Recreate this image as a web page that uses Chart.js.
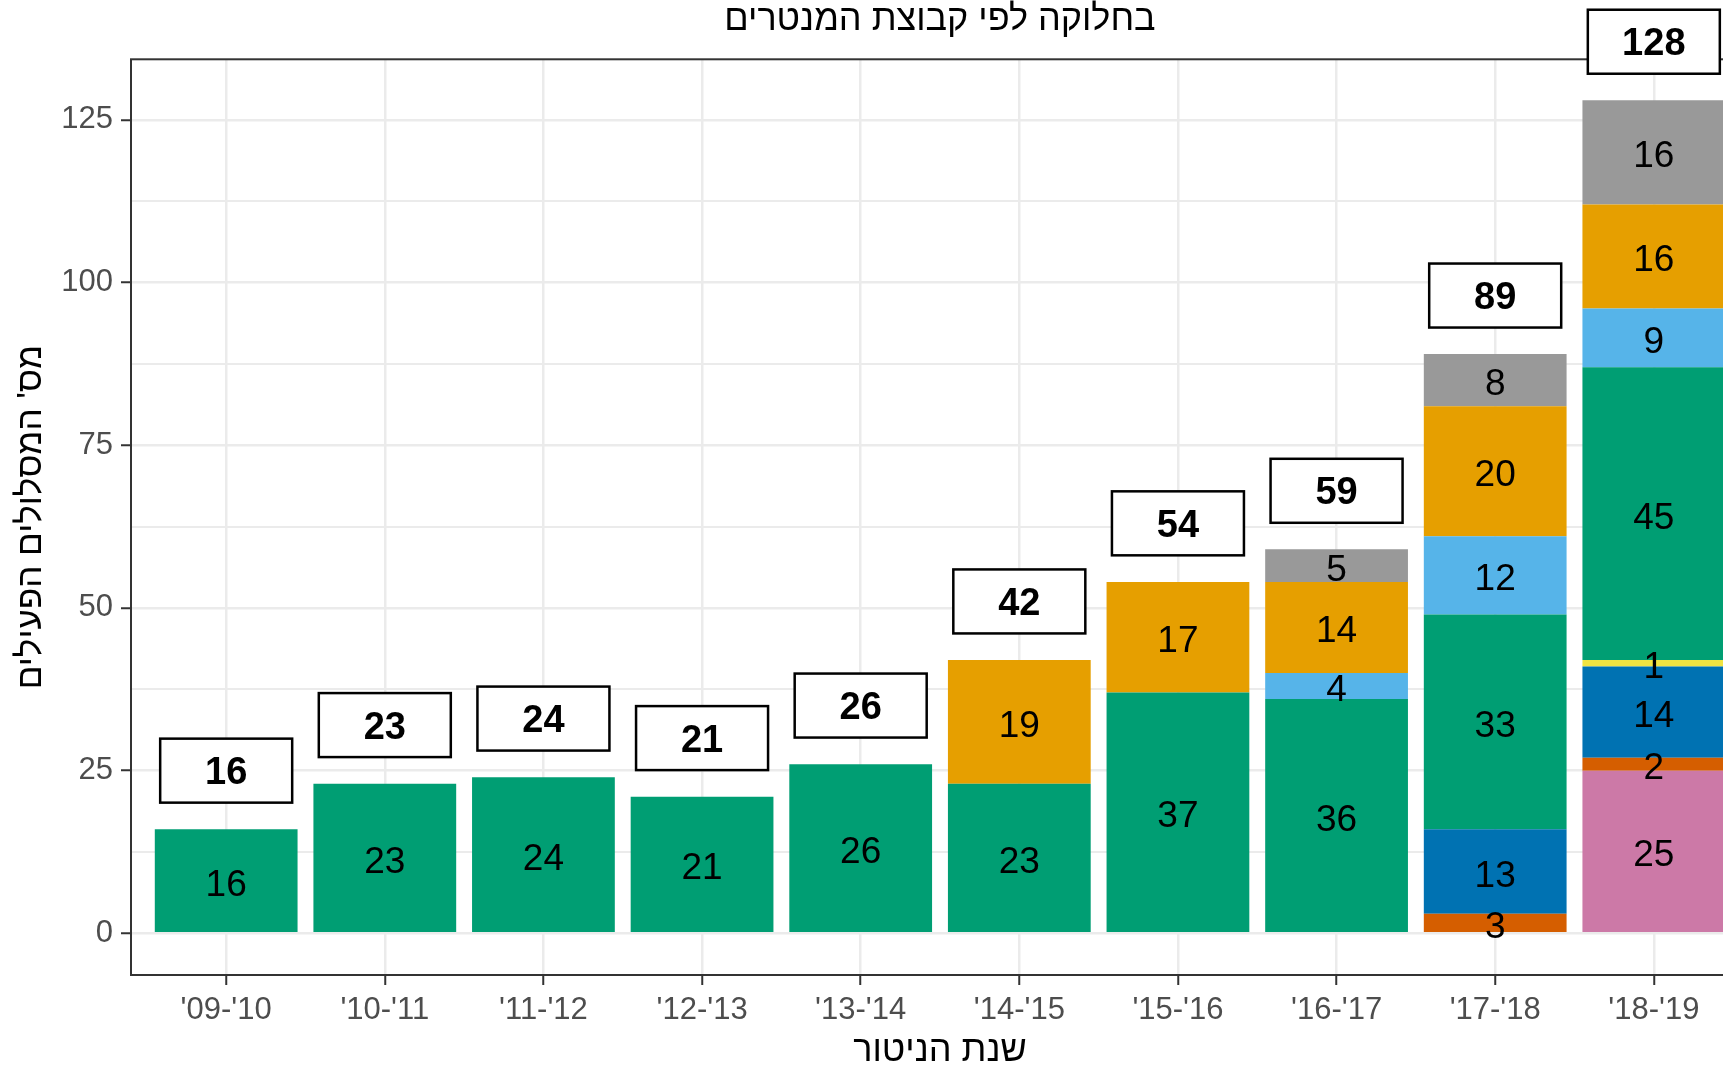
<!DOCTYPE html>
<html>
<head>
<meta charset="utf-8">
<script src="https://cdn.jsdelivr.net/npm/chart.js@4.4.1/dist/chart.umd.min.js"></script>
<style>
  html, body { margin: 0; padding: 0; overflow: hidden; background: #ffffff; }
  canvas { display: block; }
</style>
</head>
<body>
<canvas id="mentorsChart" width="1760" height="1069"></canvas>
<script>
// monitoring years (x axis)
const years = ["'09-'10", "'10-'11", "'11-'12", "'12-'13", "'13-'14", "'14-'15", "'15-'16", "'16-'17", "'17-'18", "'18-'19"];

// series, bottom of the stack first
const pinkValues      = [0, 0, 0, 0, 0, 0, 0, 0, 0, 25];
const vermilionValues = [0, 0, 0, 0, 0, 0, 0, 0, 3, 2];
const blueValues      = [0, 0, 0, 0, 0, 0, 0, 0, 13, 14];
const yellowValues    = [0, 0, 0, 0, 0, 0, 0, 0, 0, 1];
const greenValues     = [16, 23, 24, 21, 26, 23, 37, 36, 33, 45];
const skyValues       = [0, 0, 0, 0, 0, 0, 0, 4, 12, 9];
const orangeValues    = [0, 0, 0, 0, 0, 19, 17, 14, 20, 16];
const greyValues      = [0, 0, 0, 0, 0, 0, 0, 5, 8, 16];

const yTicks = [0, 25, 50, 75, 100, 125];

const titleText = 'בחלוקה לפי קבוצת המנטרים';
const xTitle = 'שנת הניטור';
const yTitle = "מס' המסלולים הפעילים";

const FONT = '"Liberation Sans", Arial, "DejaVu Sans", sans-serif';

function toPoints(values) {
    return values.map((v, i) => ({ x: i, y: v }));
}

const series = [
    { values: pinkValues, color: '#CC79A7' },
    { values: vermilionValues, color: '#D55E00' },
    { values: blueValues, color: '#0072B2' },
    { values: yellowValues, color: '#F0E442' },
    { values: greenValues, color: '#009E73' },
    { values: skyValues, color: '#56B4E9' },
    { values: orangeValues, color: '#E69F00' },
    { values: greyValues, color: '#999999' }
];

// totals come straight from the series
const totals = years.map((_, i) => series.reduce((s, sr) => s + sr.values[i], 0));

// minor grid between the labelled ticks
let gridValues = [];
for (let i = 0; i < yTicks.length; i++) {
    gridValues.push(yTicks[i]);
    if (i < yTicks.length - 1) gridValues.push((yTicks[i] + yTicks[i + 1]) / 2);
}

const labelPlugin = {
    id: 'stackLabels',
    afterDatasetsDraw(chart) {
        const { ctx, chartArea, scales } = chart;
        ctx.save();

        // panel border
        ctx.strokeStyle = '#333333';
        ctx.lineWidth = 2;
        ctx.strokeRect(chartArea.left, chartArea.top, chartArea.right - chartArea.left, chartArea.bottom - chartArea.top);

        // title, centred over the panel
        ctx.fillStyle = '#000000';
        ctx.textAlign = 'center';
        ctx.textBaseline = 'middle';
        ctx.font = '36px ' + FONT;
        ctx.fillText(titleText, (chartArea.left + chartArea.right) / 2, 20);

        // values inside each segment
        ctx.textBaseline = 'alphabetic';
        ctx.font = '37px ' + FONT;
        chart.data.datasets.forEach((ds, di) => {
            const meta = chart.getDatasetMeta(di);
            meta.data.forEach((bar, i) => {
                const v = ds.data[i].y;
                if (!v) return;
                ctx.fillText(String(v), bar.x, (bar.y + bar.base) / 2 + 15);
            });
        });

        // boxed totals above the bars
        ctx.font = 'bold 38px ' + FONT;
        totals.forEach((total, i) => {
            const x = scales.x.getPixelForValue(i);
            const y = scales.y.getPixelForValue(total + 9);
            const w = 132, h = 64;
            ctx.fillStyle = '#ffffff';
            ctx.fillRect(x - w / 2, y - h / 2, w, h);
            ctx.strokeStyle = '#000000';
            ctx.lineWidth = 2.5;
            ctx.strokeRect(x - w / 2, y - h / 2, w, h);
            ctx.fillStyle = '#000000';
            ctx.fillText(String(total), x, y + 13.6);
        });

        ctx.restore();
    }
};

const ctx = document.getElementById('mentorsChart');

new Chart(ctx, {
    type: 'bar',
    data: {
        datasets: series.map(s => ({
            data: toPoints(s.values),
            backgroundColor: s.color,
            borderWidth: 0,
            barPercentage: 0.9,
            categoryPercentage: 1.0
        }))
    },
    options: {
        responsive: false,
        animation: false,
        devicePixelRatio: 1,
        layout: { padding: { left: 0, right: 11, top: 59.3, bottom: 0 } },
        plugins: {
            legend: { display: false },
            tooltip: { enabled: false },
            title: { display: false }
        },
        scales: {
            x: {
                type: 'linear',
                stacked: true,
                offset: false,
                min: -0.6,
                max: 9.6,
                afterBuildTicks: scale => {
                    scale.ticks = years.map((_, i) => ({ value: i }));
                },
                afterFit: scale => { scale.height = 94; },
                ticks: {
                    autoSkip: false,
                    maxRotation: 0,
                    padding: 7,
                    color: '#4D4D4D',
                    font: { family: FONT, size: 31 },
                    callback: (value, index) => years[index]
                },
                grid: {
                    offset: false,
                    color: '#EBEBEB',
                    lineWidth: 2.5,
                    tickColor: '#333333',
                    tickLength: 10,
                    tickWidth: 2
                },
                border: { display: false },
                title: {
                    display: true,
                    text: xTitle,
                    color: '#000000',
                    font: { family: FONT, size: 36, lineHeight: 1.0 },
                    padding: { top: 0, bottom: 0 }
                }
            },
            y: {
                type: 'linear',
                stacked: true,
                min: -6.4,
                max: 134.3,
                afterBuildTicks: scale => {
                    scale.ticks = gridValues.map(v => ({ value: v }));
                },
                afterFit: scale => { scale.width = 131; },
                ticks: {
                    autoSkip: false,
                    padding: 8,
                    color: '#4D4D4D',
                    font: { family: FONT, size: 31 },
                    callback: value => yTicks.includes(value) ? String(value) : ''
                },
                grid: {
                    color: '#EBEBEB',
                    lineWidth: c => yTicks.includes(c.tick.value) ? 2.5 : 2,
                    tickColor: c => yTicks.includes(c.tick.value) ? '#333333' : 'rgba(0,0,0,0)',
                    tickLength: 10,
                    tickWidth: 2
                },
                border: { display: false },
                title: {
                    display: true,
                    text: yTitle,
                    color: '#000000',
                    font: { family: FONT, size: 35, lineHeight: 1.0 },
                    padding: { top: 13.5, bottom: 0 }
                }
            }
        }
    },
    plugins: [labelPlugin]
});
</script>
</body>
</html>
